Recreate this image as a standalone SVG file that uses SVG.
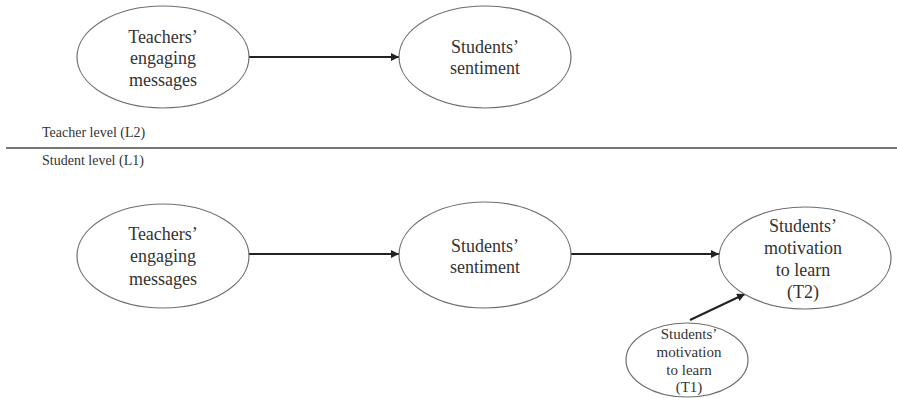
<svg xmlns="http://www.w3.org/2000/svg" width="897" height="398" viewBox="0 0 897 398">
<style>
.n{fill:#fff;stroke:#6e6e6e;stroke-width:1.2}
text{font-family:'Liberation Serif','Times New Roman','DejaVu Serif',serif;fill:#333}
.t{font-size:18px;text-anchor:middle}
.s{font-size:15px;text-anchor:middle}
.lbl{font-size:14px}
.c{stroke:#222;stroke-width:2;fill:none;marker-end:url(#ah)}
</style>
<defs>
<marker id="ah" viewBox="0 0 10 10" refX="10" refY="5" markerWidth="4" markerHeight="4" orient="auto" markerUnits="strokeWidth">
<path d="M0,0L10,5L0,10z" fill="#222"/>
</marker>
</defs>
<rect width="897" height="398" fill="#fff"/>
<g id="levels">
<text class="lbl" x="42" y="137">Teacher level (L2)</text>
<line x1="6" y1="148" x2="897" y2="148" stroke="#777" stroke-width="2"/>
<text class="lbl" x="42" y="165">Student level (L1)</text>
</g>
<g id="connectors">
<line class="c" x1="249" y1="57" x2="399" y2="57"/>
<line class="c" x1="249" y1="254" x2="399" y2="254"/>
<line class="c" x1="570" y1="254" x2="719" y2="254"/>
<line class="c" x1="690" y1="320" x2="745" y2="294"/>
</g>
<g id="top-teachers">
<ellipse class="n" cx="163" cy="57" rx="86" ry="51"/>
<text class="t" x="163" y="43" font-family="Liberation Serif">Teachers’</text>
<text class="t" x="163" y="64">engaging</text>
<text class="t" x="163" y="86">messages</text>
</g>
<g id="top-sentiment">
<ellipse class="n" cx="485" cy="57" rx="86" ry="51"/>
<text class="t" x="485" y="53">Students’</text>
<text class="t" x="485" y="74">sentiment</text>
</g>
<g id="bottom-teachers">
<ellipse class="n" cx="163" cy="256" rx="86" ry="52"/>
<text class="t" x="163" y="240">Teachers’</text>
<text class="t" x="163" y="262">engaging</text>
<text class="t" x="163" y="285">messages</text>
</g>
<g id="bottom-sentiment">
<ellipse class="n" cx="485" cy="255" rx="86" ry="53"/>
<text class="t" x="485" y="252">Students’</text>
<text class="t" x="485" y="273">sentiment</text>
</g>
<g id="motivation-t2">
<ellipse class="n" cx="805" cy="258" rx="86" ry="51"/>
<text class="t" x="803" y="232">Students’</text>
<text class="t" x="803" y="254">motivation</text>
<text class="t" x="803" y="276">to learn</text>
<text class="t" x="803" y="298">(T2)</text>
</g>
<g id="motivation-t1">
<ellipse class="n" cx="687" cy="360" rx="61" ry="37"/>
<text class="s" x="689" y="339">Students’</text>
<text class="s" x="689" y="357">motivation</text>
<text class="s" x="689" y="375">to learn</text>
<text class="s" x="689" y="392">(T1)</text>
</g>
</svg>
